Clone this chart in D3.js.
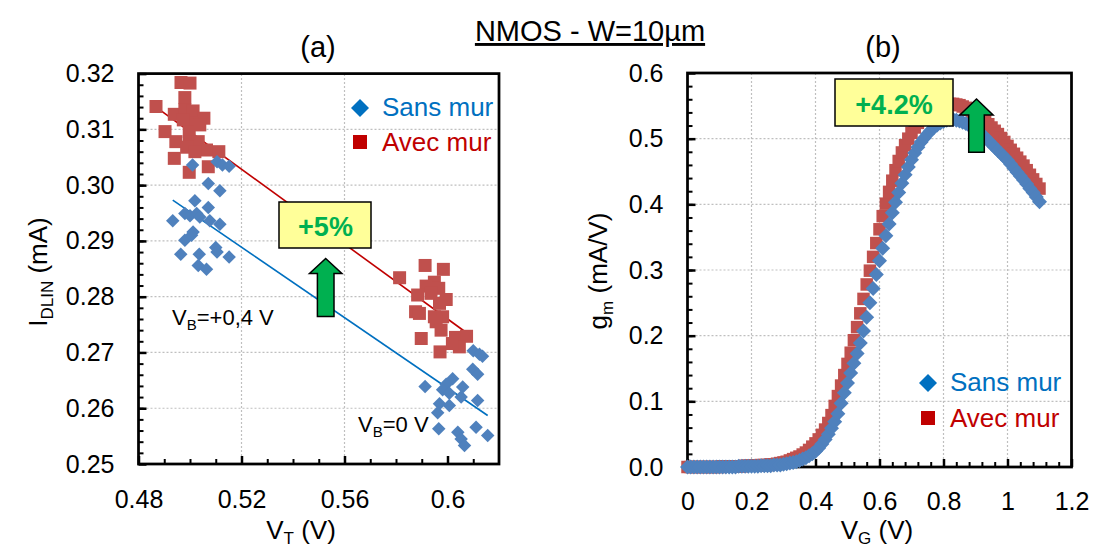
<!DOCTYPE html>
<html><head><meta charset="utf-8">
<script src="https://cdn.jsdelivr.net/npm/d3@7"></script>
<style>body{margin:0;background:#fff}svg{display:block;font-family:"Liberation Sans",Arial,sans-serif}</style>
</head><body><svg id="c" width="1093" height="548"></svg>
<script>
// ---------- Panel (a) data : I_DLIN vs V_T ----------
const vtSans = [0.5010,0.5105,0.5126,0.5152,0.5071,0.5116,0.5019,0.5071,0.4980,0.4933,0.5000,0.5026,0.5038,0.5077,0.5116,0.5012,0.4980,0.5006,0.4964,0.5036,0.5100,0.5105,0.5152,0.5032,0.5064,
  0.6100,0.6124,0.6136,0.6098,0.6117,0.5913,0.6020,0.5995,0.5981,0.6059,0.6007,0.6053,0.6117,0.5969,0.6007,0.5962,0.5966,0.6040,0.6111,0.6156,0.6053,0.6066];
const idSans = [0.3036,0.3042,0.3036,0.3034,0.3003,0.2990,0.2972,0.2960,0.2949,0.2936,0.2945,0.2949,0.2943,0.2936,0.2930,0.2916,0.2901,0.2910,0.2876,0.2876,0.2888,0.2880,0.2871,0.2856,0.2849,
  0.2703,0.2697,0.2693,0.2670,0.2661,0.2639,0.2653,0.2643,0.2633,0.2638,0.2627,0.2620,0.2614,0.2608,0.2605,0.2592,0.2563,0.2557,0.2566,0.2551,0.2545,0.2533];
const vtAvec = [0.4965,0.5000,0.4980,0.4868,0.4939,0.4980,0.5012,0.5054,0.5006,0.4974,0.4903,0.4997,0.4945,0.4997,0.5032,0.4987,0.5064,0.5112,0.4939,0.5071,0.4997,0.5019,0.5038,
  0.5913,0.5984,0.5814,0.5949,0.5917,0.5966,0.5884,0.5936,0.5995,0.5969,0.5876,0.5891,0.5949,0.5981,0.5956,0.5975,0.5898,0.6031,0.6074,0.6046,0.5971,0.6019];
const idAvec = [0.3184,0.3183,0.3157,0.3141,0.3127,0.3135,0.3133,0.3120,0.3112,0.3117,0.3096,0.3096,0.3078,0.3078,0.3078,0.3068,0.3063,0.3060,0.3048,0.3033,0.3023,0.3060,0.3108,
  0.2856,0.2849,0.2834,0.2826,0.2819,0.2815,0.2803,0.2806,0.2795,0.2788,0.2773,0.2770,0.2764,0.2764,0.2755,0.2740,0.2725,0.2727,0.2729,0.2710,0.2701,0.2716];
const trendSansX = [0.4933, 0.6156], trendSansY = [0.2973, 0.2587];
const trendAvecX = [0.4868, 0.6078], trendAvecY = [0.3140, 0.2734];
const aXTicks = [0.48, 0.52, 0.56, 0.6];
const aXTickLabels = ["0.48", "0.52", "0.56", "0.6"];
const aYTicks = [0.25, 0.26, 0.27, 0.28, 0.29, 0.30, 0.31, 0.32];
const aYTickLabels = ["0.25", "0.26", "0.27", "0.28", "0.29", "0.30", "0.31", "0.32"];

// ---------- Panel (b) data : gm vs VG ----------
const vg = [0,0.01,0.02,0.03,0.04,0.05,0.06,0.07,0.08,0.09,0.10,0.11,0.12,0.13,0.14,0.15,0.16,0.17,0.18,0.19,
  0.20,0.21,0.22,0.23,0.24,0.25,0.26,0.27,0.28,0.29,0.30,0.31,0.32,0.33,0.34,0.35,0.36,0.37,0.38,0.39,
  0.40,0.41,0.42,0.43,0.44,0.45,0.46,0.47,0.48,0.49,0.50,0.51,0.52,0.53,0.54,0.55,0.56,0.57,0.58,0.59,
  0.60,0.61,0.62,0.63,0.64,0.65,0.66,0.67,0.68,0.69,0.70,0.71,0.72,0.73,0.74,0.75,0.76,0.77,0.78,0.79,
  0.80,0.81,0.82,0.83,0.84,0.85,0.86,0.87,0.88,0.89,0.90,0.91,0.92,0.93,0.94,0.95,0.96,0.97,0.98,0.99,
  1.00,1.01,1.02,1.03,1.04,1.05,1.06,1.07,1.08,1.09,1.10];
const gmSans = [0,0,0,0,0,0,0,0,0,0,0,0,0,0,0,0,0.001,0.001,0.001,0.001,
  0.001,0.001,0.001,0.002,0.002,0.002,0.002,0.003,0.003,0.003,
  0.004,0.005,0.006,0.007,0.008,0.010,0.012,0.014,0.017,0.020,
  0.024,0.029,0.035,0.042,0.050,0.059,0.069,0.081,0.097,0.113,
  0.128,0.143,0.158,0.173,0.189,0.207,0.228,0.250,0.272,0.293,
  0.314,0.333,0.352,0.370,0.387,0.403,0.418,0.432,0.445,0.457,
  0.468,0.478,0.487,0.495,0.501,0.507,0.512,0.517,0.521,0.524,
  0.526,0.528,0.529,0.529,0.528,0.527,0.525,0.523,0.520,0.517,
  0.514,0.510,0.506,0.502,0.497,0.492,0.487,0.482,0.477,0.472,
  0.467,0.461,0.455,0.449,0.443,0.437,0.431,0.424,0.418,0.411,0.404];
const gmAvec = [0,0,0,0,0,0,0,0,0,0,0,0.001,0.001,0.001,0.001,0.001,0.001,0.001,0.002,0.002,
  0.002,0.002,0.002,0.003,0.003,0.003,0.004,0.004,0.005,0.006,
  0.007,0.008,0.010,0.012,0.014,0.016,0.019,0.022,0.026,0.031,
  0.036,0.042,0.049,0.057,0.067,0.079,0.093,0.108,0.124,0.140,
  0.157,0.174,0.193,0.213,0.234,0.256,0.278,0.299,0.320,0.341,
  0.362,0.382,0.401,0.419,0.436,0.452,0.466,0.479,0.490,0.500,
  0.509,0.517,0.524,0.530,0.535,0.539,0.543,0.546,0.549,0.551,
  0.552,0.553,0.553,0.553,0.552,0.551,0.549,0.547,0.544,0.541,
  0.538,0.535,0.531,0.527,0.522,0.517,0.512,0.507,0.501,0.495,
  0.489,0.483,0.477,0.471,0.465,0.459,0.452,0.445,0.438,0.431,0.424];
const bXTicks = [0, 0.2, 0.4, 0.6, 0.8, 1.0, 1.2];
const bXTickLabels = ["0", "0.2", "0.4", "0.6", "0.8", "1", "1.2"];
const bYTicks = [0, 0.1, 0.2, 0.3, 0.4, 0.5, 0.6];
const bYTickLabels = ["0.0", "0.1", "0.2", "0.3", "0.4", "0.5", "0.6"];

const seriesNames = ["Sans mur", "Avec mur"];

// ---------- styles ----------
const C_BLUE = "#4f81bd", C_RED = "#c0504d";
const C_LBLUE = "#0070c0", C_LRED = "#c00000";
const GREEN = "#00b050";

const svg = d3.select("#c");

function panel(o) {
  const g = svg.append("g");
  const x = d3.scaleLinear().domain(o.xd).range(o.xr);
  const y = d3.scaleLinear().domain(o.yd).range(o.yr);
  g.append("g").selectAll("line").data(o.xTicks.slice(1, -1)).join("line")
    .attr("x1", d => x(d)).attr("x2", d => x(d)).attr("y1", o.yr[0]).attr("y2", o.yr[1])
    .attr("stroke", "#bfbfbf").attr("stroke-width", 1.2).attr("stroke-dasharray", "2,2");
  g.append("g").selectAll("line").data(o.yTicks.slice(1, -1)).join("line")
    .attr("y1", d => y(d)).attr("y2", d => y(d)).attr("x1", o.xr[0]).attr("x2", o.xr[1])
    .attr("stroke", "#bfbfbf").attr("stroke-width", 1.2).attr("stroke-dasharray", "2,2");
  const minX = d3.axisBottom(x).tickValues(o.xMinor).tickSize(-5).tickFormat("");
  const minY = d3.axisLeft(y).tickValues(o.yMinor).tickSize(-5).tickFormat("");
  g.append("g").attr("transform", `translate(0,${o.yr[0]})`).call(minX)
    .call(s => s.select(".domain").remove()).selectAll("line").attr("stroke-width", 2);
  g.append("g").attr("transform", `translate(${o.xr[0]},0)`).call(minY)
    .call(s => s.select(".domain").remove()).selectAll("line").attr("stroke-width", 2);
  const ax = d3.axisBottom(x).tickValues(o.xTicks).tickSize(-8).tickPadding(o.xPad)
    .tickFormat((d, i) => o.xLabels[i]);
  const ay = d3.axisLeft(y).tickValues(o.yTicks).tickSize(-8).tickPadding(24)
    .tickFormat((d, i) => o.yLabels[i]);
  const gx = g.append("g").attr("transform", `translate(0,${o.yr[0]})`).call(ax);
  const gy = g.append("g").attr("transform", `translate(${o.xr[0]},0)`).call(ay);
  [gx, gy].forEach(s => {
    s.select(".domain").remove();
    s.selectAll("line").attr("stroke-width", 2.5);
    s.selectAll("text").attr("font-size", 25).attr("fill", "#000")
      .attr("font-family", '"Liberation Sans",Arial,sans-serif');
  });
  g.append("rect").attr("x", o.xr[0]).attr("y", o.yr[1])
    .attr("width", o.xr[1] - o.xr[0]).attr("height", o.yr[0] - o.yr[1])
    .attr("fill", "none").attr("stroke", "#000").attr("stroke-width", 2.75);
  return { g, x, y };
}

function diamondPath(d) { return d3.symbol(d3.symbolSquare, d * d / 2)(); }

// ================= Panel (a) =================
const A = panel({
  xd: [0.48, 0.62], xr: [138.5, 499], yd: [0.25, 0.32], yr: [464, 73.6],
  xTicks: aXTicks, xLabels: aXTickLabels, yTicks: aYTicks, yLabels: aYTickLabels,
  xMinor: d3.range(0.49, 0.62, 0.01), yMinor: d3.range(0.252, 0.32, 0.002), xPad: 26
});
const line = d3.line();
A.g.append("path").attr("d", line(trendAvecX.map((v, i) => [A.x(v), A.y(trendAvecY[i])])))
  .attr("stroke", C_LRED).attr("stroke-width", 1.6).attr("fill", "none");
A.g.append("path").attr("d", line(trendSansX.map((v, i) => [A.x(v), A.y(trendSansY[i])])))
  .attr("stroke", C_LBLUE).attr("stroke-width", 1.6).attr("fill", "none");
A.g.append("g").selectAll("path").data(vtAvec).join("path")
  .attr("d", d3.symbol(d3.symbolSquare, 13 * 13)())
  .attr("transform", (d, i) => `translate(${A.x(d)},${A.y(idAvec[i])})`)
  .attr("fill", C_RED);
A.g.append("g").selectAll("path").data(vtSans).join("path")
  .attr("d", diamondPath(13.5))
  .attr("transform", (d, i) => `translate(${A.x(d)},${A.y(idSans[i])}) rotate(45)`)
  .attr("fill", C_BLUE);

// ================= Panel (b) =================
const B = panel({
  xd: [0, 1.2], xr: [687.5, 1071.5], yd: [0, 0.6], yr: [467, 73],
  xTicks: bXTicks, xLabels: bXTickLabels, yTicks: bYTicks, yLabels: bYTickLabels,
  xMinor: d3.range(0.04, 1.2, 0.04), yMinor: d3.range(0.02, 0.6, 0.02), xPad: 25
});
B.g.append("g").selectAll("path").data(vg).join("path")
  .attr("d", d3.symbol(d3.symbolSquare, 12.5 * 12.5)())
  .attr("transform", (d, i) => `translate(${B.x(d)},${B.y(gmAvec[i])})`)
  .attr("fill", C_RED);
B.g.append("g").selectAll("path").data(vg).join("path")
  .attr("d", diamondPath(15))
  .attr("transform", (d, i) => `translate(${B.x(d)},${B.y(gmSans[i])}) rotate(45)`)
  .attr("fill", C_BLUE);

// ================= Legends =================
function legend(x0, y0, gap) {
  const lg = svg.append("g");
  lg.append("path").attr("d", diamondPath(18)).attr("transform", `translate(${x0},${y0}) rotate(45)`).attr("fill", C_LBLUE);
  lg.append("path").attr("d", d3.symbol(d3.symbolSquare, 14 * 14)()).attr("transform", `translate(${x0},${y0 + gap})`).attr("fill", C_LRED);
  lg.append("text").attr("x", x0 + 22).attr("y", y0 + 8).attr("font-size", 26).attr("fill", C_LBLUE).text(seriesNames[0]);
  lg.append("text").attr("x", x0 + 22).attr("y", y0 + gap + 9).attr("font-size", 26).attr("fill", C_LRED).text(seriesNames[1]);
}
legend(360, 108, 34);
legend(928, 383, 35);

// ================= Texts =================
svg.append("text").attr("x", 590).attr("y", 41).attr("text-anchor", "middle").attr("font-size", 29)
  .attr("text-decoration", "underline").text("NMOS - W=10µm");
svg.append("text").attr("x", 318).attr("y", 57).attr("text-anchor", "middle").attr("font-size", 29).text("(a)");
svg.append("text").attr("x", 883).attr("y", 57).attr("text-anchor", "middle").attr("font-size", 29).text("(b)");

const xt1 = svg.append("text").attr("x", 301).attr("y", 539).attr("text-anchor", "middle").attr("font-size", 26);
xt1.append("tspan").text("V");
xt1.append("tspan").attr("font-size", 17).attr("dy", 5).text("T");
xt1.append("tspan").attr("dy", -5).text(" (V)");
const xt2 = svg.append("text").attr("x", 877).attr("y", 539).attr("text-anchor", "middle").attr("font-size", 26);
xt2.append("tspan").text("V");
xt2.append("tspan").attr("font-size", 17).attr("dy", 5).text("G");
xt2.append("tspan").attr("dy", -5).text(" (V)");

const yt1 = svg.append("text").attr("transform", "translate(47,272) rotate(-90)").attr("text-anchor", "middle").attr("font-size", 26);
yt1.append("tspan").text("I");
yt1.append("tspan").attr("font-size", 17).attr("dy", 6).text("DLIN");
yt1.append("tspan").attr("dy", -6).text("  (mA)");
const yt2 = svg.append("text").attr("transform", "translate(607,271) rotate(-90)").attr("text-anchor", "middle").attr("font-size", 26);
yt2.append("tspan").text("g");
yt2.append("tspan").attr("font-size", 17).attr("dy", 6).text("m");
yt2.append("tspan").attr("dy", -6).text("  (mA/V)");

function vb(x, y, rest) {
  const t = svg.append("text").attr("x", x).attr("y", y).attr("font-size", 22);
  t.append("tspan").text("V");
  t.append("tspan").attr("font-size", 15).attr("dy", 5).text("B");
  t.append("tspan").attr("dy", -5).text(rest);
}
vb(172, 325, "=+0,4 V");
vb(358, 432, "=0 V");

function box(x, y, w, h, label, tx, ty) {
  svg.append("rect").attr("x", x).attr("y", y).attr("width", w).attr("height", h)
    .attr("fill", "#ffff99").attr("stroke", "#000").attr("stroke-width", 1.5);
  svg.append("text").attr("x", tx).attr("y", ty).attr("text-anchor", "middle")
    .attr("font-size", 27).attr("font-weight", "bold").attr("fill", GREEN).text(label);
}
function arrow(cx, tip, headY, bottom, headHalf, shaftHalf) {
  const pts = [[cx, tip], [cx + headHalf, headY], [cx + shaftHalf, headY], [cx + shaftHalf, bottom],
    [cx - shaftHalf, bottom], [cx - shaftHalf, headY], [cx - headHalf, headY]];
  svg.append("path").attr("d", d3.line()(pts) + "Z").attr("fill", GREEN)
    .attr("stroke", "#000").attr("stroke-width", 1.5).attr("stroke-linejoin", "miter");
}
box(279, 202, 92, 46, "+5%", 325.5, 236);
arrow(325.7, 258.5, 273.5, 316.5, 16.2, 8.3);
box(835, 79, 118, 47, "+4.2%", 894, 114);
arrow(976.5, 99, 115, 152.3, 16.6, 7.8);
</script></body></html>
